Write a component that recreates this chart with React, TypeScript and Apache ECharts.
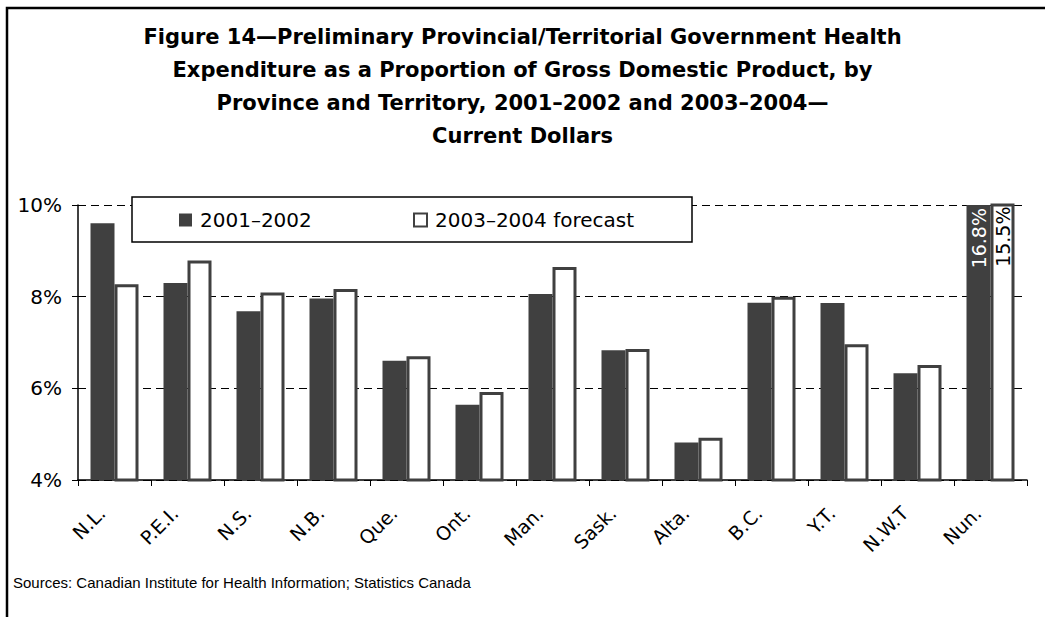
import React, { useEffect, useRef } from "react";
import * as echarts from "echarts";

const categories = ["N.L.", "P.E.I.", "N.S.", "N.B.", "Que.", "Ont.", "Man.", "Sask.", "Alta.", "B.C.", "Y.T.", "N.W.T", "Nun."];
const values2001 = [9.6, 8.3, 7.68, 7.96, 6.6, 5.64, 8.06, 6.83, 4.82, 7.87, 7.86, 6.33, 16.8];
const values2003 = [8.27, 8.79, 8.09, 8.17, 6.7, 5.92, 8.65, 6.86, 4.92, 8.0, 6.96, 6.51, 15.5];
const seriesNames = ["2001\u20132002", "2003\u20132004 forecast"];
const yMin = 4;
const yMax = 10;
const yInterval = 2;
const titleLines = [
  "Figure 14\u2014Preliminary Provincial/Territorial Government Health",
  "Expenditure as a Proportion of Gross Domestic Product, by",
  "Province and Territory, 2001\u20132002 and 2003\u20132004\u2014",
  "Current Dollars",
];
const sourceText = "Sources: Canadian Institute for Health Information; Statistics Canada";

const DARK = "#404040";
const FONT = "DejaVu Sans";

export default function App() {
  const ref = useRef<HTMLDivElement>(null);
  useEffect(() => {
    if (!ref.current) return;
    const chart = echarts.init(ref.current, undefined, { renderer: "svg" });
    const legendCommon = {
      orient: "horizontal",
      top: 210,
      padding: 0,
      itemWidth: 13,
      itemHeight: 13,
      z: 20,
      selectedMode: false,
      textStyle: { fontSize: 20, fontFamily: FONT, color: "#000", padding: [0, 0, 0, 3] },
    };
    const nunLabel = {
      show: true,
      position: "insideTop",
      rotate: 90,
      align: "right",
      verticalAlign: "middle",
      distance: 3,
      fontSize: 19,
      fontFamily: FONT,
      formatter: (p: any) => (p.value > yMax ? p.value + "%" : ""),
    };
    chart.setOption({
      animation: false,
      backgroundColor: "#fff",
      title: {
        text: titleLines.join("\n"),
        left: "center",
        top: 15,
        textStyle: { fontSize: 21, fontWeight: "bold", fontFamily: FONT, lineHeight: 33, color: "#000" },
      },
      legend: [
        { ...legendCommon, left: 179, data: [{ name: seriesNames[0], icon: "rect" }] },
        { ...legendCommon, left: 413, data: [{ name: seriesNames[1], icon: "rect" }] },
      ],
      grid: { left: 78, right: 18, top: 205, bottom: 137 },
      xAxis: {
        type: "category",
        data: categories,
        axisLine: { show: true, lineStyle: { color: "#000", width: 1.5 } },
        axisTick: { show: true, length: 6, alignWithLabel: false, lineStyle: { color: "#000", width: 1 } },
        axisLabel: {
          interval: 0,
          rotate: 45,
          margin: 17,
          fontSize: 19,
          fontFamily: FONT,
          color: "#000",
          padding: [0, 18, 0, 0],
        },
      },
      yAxis: {
        type: "value",
        min: yMin,
        max: yMax,
        interval: yInterval,
        axisLine: { show: true, lineStyle: { color: "#000", width: 1.5 } },
        axisTick: { show: true, length: 6, lineStyle: { color: "#000", width: 1 } },
        axisLabel: { formatter: "{value}%", fontSize: 20, fontFamily: FONT, color: "#000", margin: 16 },
        splitLine: { show: true, lineStyle: { color: "#000", width: 1, type: [8, 5] } },
      },
      series: [
        {
          name: seriesNames[0],
          type: "bar",
          data: values2001,
          barWidth: 24,
          barGap: "0%",
          clip: true,
          itemStyle: { color: DARK },
          label: { ...nunLabel, color: "#fff" },
        },
        {
          name: seriesNames[1],
          type: "bar",
          data: values2003,
          barWidth: 24,
          barGap: "0%",
          clip: true,
          itemStyle: { color: "#fff", borderColor: DARK, borderWidth: 3 },
          label: { ...nunLabel, color: "#000" },
        },
      ],
      graphic: [
        {
          type: "rect",
          z: 1,
          shape: { x: 7, y: 8, width: 1100, height: 700 },
          style: { fill: "none", stroke: "#000", lineWidth: 2.5 },
          silent: true,
        },
        {
          type: "rect",
          z: 10,
          shape: { x: 132, y: 197, width: 560, height: 45 },
          style: { fill: "#fff", stroke: "#000", lineWidth: 1.5 },
          silent: true,
        },
        {
          type: "text",
          z: 10,
          x: 13,
          y: 582,
          style: {
            text: sourceText,
            fontSize: 15,
            fontFamily: "Liberation Sans",
            fill: "#000",
            verticalAlign: "middle",
          },
        },
      ],
    });
    return () => chart.dispose();
  }, []);
  return <div ref={ref} style={{ position: "absolute", left: 0, top: 0, width: 1045, height: 617 }} />;
}
